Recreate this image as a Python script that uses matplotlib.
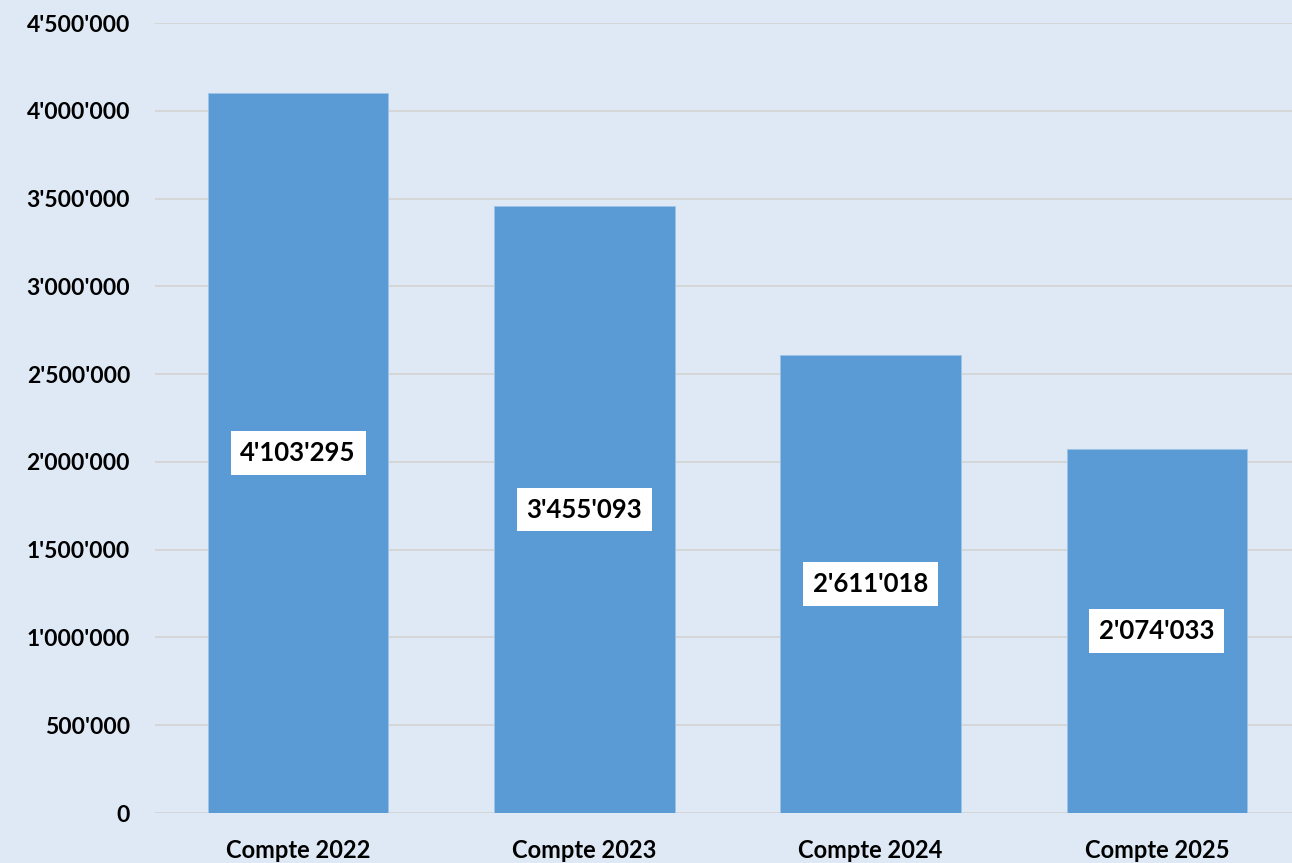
import matplotlib
matplotlib.use("Agg")
import matplotlib.pyplot as plt
from matplotlib.ticker import FuncFormatter

categories = ["Compte 2022", "Compte 2023", "Compte 2024", "Compte 2025"]
values = [4103295, 3455093, 2611018, 2074033]
yticks = [0, 500000, 1000000, 1500000, 2000000, 2500000, 3000000, 3500000, 4000000, 4500000]

plt.rcParams['font.family'] = ['Lato', 'DejaVu Sans']

def fmt(v, pos=None):
    return f"{int(v):,}".replace(",", "'")

bg = "#DEE9F5"
fig = plt.figure(figsize=(12.92, 8.63), dpi=100, facecolor=bg)
ax = fig.add_axes([155/1292, 1 - 813/863, 1 - 155/1292, (813 - 23)/863])
ax.set_facecolor(bg)

x = list(range(len(categories)))
ax.bar(x, values, width=0.63, color="#5B9BD5", edgecolor="#9DC3E6", linewidth=0.6, zorder=3)

for xi, v in zip(x, values):
    ax.text(xi, v / 2, fmt(v), ha="center", va="center", fontsize=18.5, fontweight="bold",
            color="black", zorder=4,
            bbox=dict(boxstyle="square,pad=0.38", facecolor="white", edgecolor="none"))

ax.set_xlim(-0.5, 3.5 - 8/286)
ax.set_ylim(0, 4500000)
ax.set_yticks(yticks)
ax.yaxis.set_major_formatter(FuncFormatter(fmt))
ax.set_xticks(x)
ax.set_xticklabels(categories)
ax.grid(axis="y", color="#D4D4D4", linewidth=1.3, zorder=0)
ax.set_axisbelow(True)
for s in ax.spines.values():
    s.set_visible(False)
ax.tick_params(axis="y", length=0, labelsize=16.5, pad=18)
ax.tick_params(axis="x", length=0, labelsize=17, pad=19)
for lbl in ax.get_xticklabels() + ax.get_yticklabels():
    lbl.set_fontweight("bold")

fig.savefig("out.png", dpi=100, facecolor=bg)
